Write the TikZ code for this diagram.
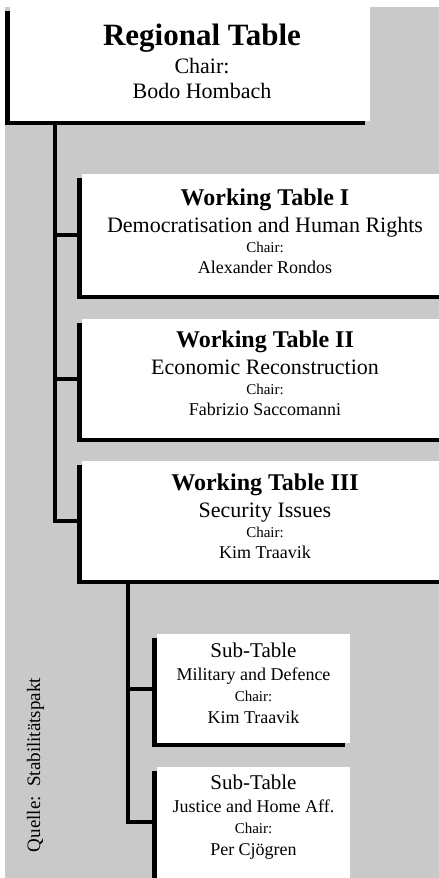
\documentclass[tikz,border=0pt]{standalone}
\usepackage{fontspec}
\setmainfont{Liberation Serif}
\usetikzlibrary{shadows}
\definecolor{panel}{RGB}{201,201,201}

\newcommand{\tabfont}{\fontsize{22}{20}\selectfont\setlength{\lineskiplimit}{-100pt}}
\newcommand{\tabtitle}[2]{{\bfseries\fontsize{#1}{20}\selectfont #2}}
\newcommand{\tabsize}[2]{{\fontsize{#1}{20}\selectfont #2}}

\tikzset{
	tablebox/.style={fill=white, anchor=north west, inner sep=0pt,
		general shadow={fill=black, shadow xshift=-5pt, shadow yshift=-4pt}},
	link/.style={line width=4pt, black},
	tabletext/.style={align=center, anchor=base, inner sep=0pt, font=\tabfont},
}

\begin{document}
\begin{tikzpicture}[x=1pt, y=-1pt]
	\useasboundingbox (0,0) rectangle (439,878);
	\clip (0,0) rectangle (439,878);
	\fill[panel] (5,7) rectangle (439,878);

	% boxes
	\node[tablebox, minimum width=360pt, minimum height=114pt] (reg) at (10,7) {};
	\node[tablebox, minimum width=370pt, minimum height=121pt] (wt1) at (82,174) {};
	\node[tablebox, minimum width=370pt, minimum height=119pt] (wt2) at (82,319) {};
	\node[tablebox, minimum width=370pt, minimum height=119pt] (wt3) at (82,461) {};
	\node[tablebox, minimum width=193pt, minimum height=109pt] (sub1) at (157,634) {};
	\node[tablebox, minimum width=193pt, minimum height=115pt] (sub2) at (157,767) {};

	% texts (anchored at the baseline of the last line)
	\node[tabletext] (reg-txt) at (202,98)
		{\tabtitle{31}{Regional Table}\\[8pt] Chair:\\[5pt] Bodo Hombach};
	\node[tabletext] (wt1-txt) at (265,273)
		{\tabtitle{24}{Working Table I}\\[7pt] Democratisation and Human Rights\\
		 \tabsize{15}{Chair:}\\[1pt] \tabsize{18}{Alexander Rondos}};
	\node[tabletext] (wt2-txt) at (265,415)
		{\tabtitle{24}{Working Table II}\\[7pt] Economic Reconstruction\\
		 \tabsize{15}{Chair:}\\[1pt] \tabsize{18}{Fabrizio Saccomanni}};
	\node[tabletext] (wt3-txt) at (265,558)
		{\tabtitle{24}{Working Table III}\\[7pt] Security Issues\\
		 \tabsize{15}{Chair:}\\[1pt] \tabsize{18}{Kim Traavik}};
	\node[tabletext] (sub1-txt) at (253.5,723)
		{\tabsize{21}{Sub-Table}\\[3pt] \tabsize{18}{Military and Defence}\\[1pt]
		 \tabsize{15}{Chair:}\\[2pt] \tabsize{18}{Kim Traavik}};
	\node[tabletext] (sub2-txt) at (253.5,855)
		{\tabsize{21}{Sub-Table}\\[3pt] \tabsize{18}{Justice and Home Aff.}\\[1pt]
		 \tabsize{15}{Chair:}\\[2pt] \tabsize{18}{Per Cjögren}};

	\node[rotate=90, anchor=base, inner sep=0pt, font=\fontsize{19}{20}\selectfont]
		(source) at (40,765) {Quelle:\ \ Stabilitätspakt};

	% connectors
	\coordinate (reg-fork) at (55,121);
	\coordinate (wt3-fork) at (128,580);
	\draw[link] (reg-fork) |- (wt3.west);
	\foreach \t in {wt1,wt2}
		\draw[link] (reg-fork |- \t.west) -- (\t.west);
	\draw[link] (wt3-fork) |- ([yshift=3pt]sub2.west);
	\draw[link] (wt3-fork |- sub1.west) -- (sub1.west);
\end{tikzpicture}
\end{document}
